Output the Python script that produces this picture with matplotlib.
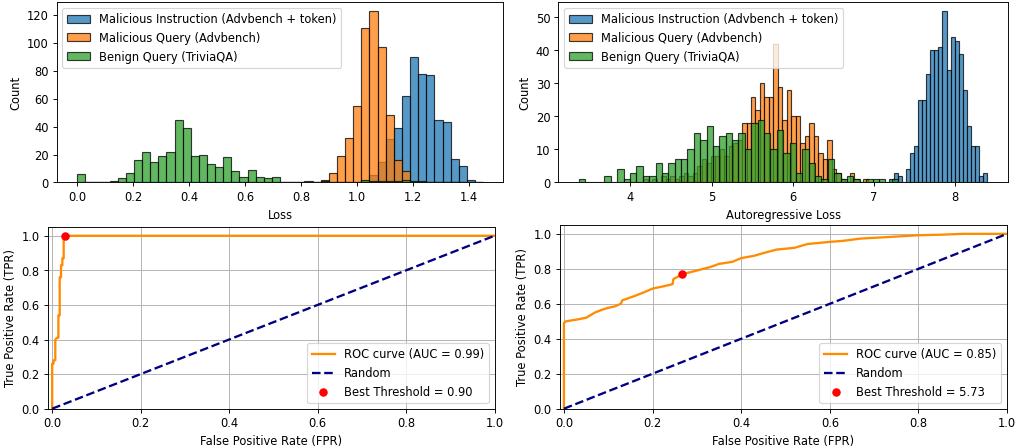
import numpy as np
import matplotlib
matplotlib.use('Agg')
import matplotlib.pyplot as plt

LABELS = ['Malicious Instruction (Advbench + token)', 'Malicious Query (Advbench)', 'Benign Query (TriviaQA)']
COLORS = ['C0', 'C1', 'C2']

# --- Loss histogram (shared bins: 50 bins on [0, 1.45]) ---
loss_bins = (0.0, 1.45, 50)
loss_instruction = [0] * 35 + [1, 5, 15, 31, 39, 62, 90, 78, 77, 45, 43, 17, 12, 2, 0]
loss_query = [0] * 28 + [1, 0, 2, 7, 19, 32, 55, 111, 123, 97, 48, 16, 8] + [0] * 9
loss_benign = [6, 0, 0, 0, 1, 3, 7, 16, 22, 15,
               19, 22, 45, 39, 19, 20, 13, 11, 18, 8,
               4, 9, 4, 3, 4, 0, 0, 0, 0, 0,
               1, 0, 0, 0, 0, 2, 1, 1, 1, 1,
               2, 1, 1, 0, 0, 0, 0, 0, 0, 0]

# --- Autoregressive loss histogram (bins per series: start, width) ---
ar_instruction_bins = (7.189, 0.0502)
ar_instruction = [1, 3, 2, 0, 4, 9, 11, 25, 25, 33, 40, 40, 41, 52, 34, 44, 43, 39, 28, 17, 11, 11, 2, 3]
ar_query_bins = (4.157, 0.0553)
ar_query = [1, 0, 1, 0, 2, 1, 2, 1, 2, 3,
            2, 3, 5, 7, 6, 8, 8, 10, 8, 11,
            12, 13, 18, 18, 26, 22, 30, 26, 26, 42,
            29, 19, 28, 20, 20, 12, 14, 18, 14, 9,
            7, 13, 4, 3, 1, 0, 3, 1, 0, 1]
ar_benign_bins = (3.365, 0.0786)
ar_benign = [1, 0, 0, 0, 2, 0, 4, 1, 3, 5,
             2, 2, 6, 3, 6, 7, 7, 10, 15, 13,
             17, 11, 14, 15, 13, 15, 10, 18, 19, 15,
             10, 16, 9, 12, 3, 10, 6, 2, 1, 7,
             3, 1, 2, 1, 0, 1, 1, 1, 0, 1]

# --- ROC curves ---
fpr_loss = [0, 0, 0.003, 0.003, 0.007, 0.007, 0.011, 0.014, 0.014, 0.017, 0.017, 0.020, 0.020, 0.023, 0.023, 0.026, 0.026, 1.0]
tpr_loss = [0, 0.26, 0.26, 0.28, 0.28, 0.40, 0.41, 0.41, 0.54, 0.54, 0.76, 0.76, 0.83, 0.83, 0.87, 0.87, 1.0, 1.0]
best_loss = (0.030, 1.0)
auc_loss, thr_loss = 0.99, 0.90

fpr_ar = [0, 0, 0.005, 0.03, 0.05, 0.06, 0.07, 0.085, 0.10, 0.115, 0.128, 0.132, 0.16, 0.18, 0.20, 0.225,
          0.245, 0.247, 0.268, 0.30, 0.33, 0.35, 0.38, 0.40, 0.43, 0.45, 0.48, 0.50, 0.52, 0.55, 0.60,
          0.63, 0.67, 0.72, 0.80, 0.85, 0.90, 1.0]
tpr_ar = [0, 0.49, 0.50, 0.51, 0.52, 0.535, 0.55, 0.565, 0.577, 0.585, 0.60, 0.62, 0.645, 0.665, 0.687, 0.70,
          0.712, 0.741, 0.77, 0.79, 0.81, 0.828, 0.84, 0.861, 0.875, 0.89, 0.91, 0.915, 0.92, 0.942, 0.954,
          0.96, 0.973, 0.98, 0.992, 0.995, 1.0, 1.0]
best_ar = (0.267, 0.77)
auc_ar, thr_ar = 0.85, 5.73


def draw_hist(ax, series, xlabel):
    # series: list of (counts, edges) in drawing order
    for (counts, edges), color, label in zip(series, COLORS, LABELS):
        ax.bar(edges[:-1], counts, width=np.diff(edges), align='edge', color=color,
               alpha=0.75, edgecolor='black', linewidth=1.0, label=label)
    ax.set_xlabel(xlabel)
    ax.set_ylabel('Count')
    ax.legend(loc='upper left')


def draw_roc(ax, fpr, tpr, best, auc, thr):
    ax.plot(fpr, tpr, color='darkorange', lw=2, label=f'ROC curve (AUC = {auc:.2f})')
    ax.plot([0, 1], [0, 1], color='navy', lw=2, linestyle='--', label='Random')
    ax.scatter([best[0]], [best[1]], color='red', s=40, zorder=3, label=f'Best Threshold = {thr:.2f}')
    ax.set_xlim([-0.01, 1.0])
    ax.set_ylim([0.0, 1.05])
    ax.set_xlabel('False Positive Rate (FPR)')
    ax.set_ylabel('True Positive Rate (TPR)')
    ax.grid(True)
    ax.legend(loc='lower right')


fig = plt.figure(figsize=(1018.4 / 83, 448.4 / 83), dpi=83)
ax_tl = fig.add_axes([0.0557, 0.5922, 0.4387, 0.4018])
ax_tr = fig.add_axes([0.5484, 0.5922, 0.4411, 0.4018])
ax_bl = fig.add_axes([0.0469, 0.0877, 0.4387, 0.4049])
ax_br = fig.add_axes([0.5494, 0.0877, 0.4395, 0.4094])

loss_edges = np.linspace(*loss_bins[:2], loss_bins[2] + 1)
draw_hist(ax_tl, [(loss_instruction, loss_edges), (loss_query, loss_edges), (loss_benign, loss_edges)], 'Loss')

ar_series = []
for counts, (start, width) in [(ar_instruction, ar_instruction_bins), (ar_query, ar_query_bins), (ar_benign, ar_benign_bins)]:
    ar_series.append((counts, start + width * np.arange(len(counts) + 1)))
draw_hist(ax_tr, ar_series, 'Autoregressive Loss')

draw_roc(ax_bl, fpr_loss, tpr_loss, best_loss, auc_loss, thr_loss)
draw_roc(ax_br, fpr_ar, tpr_ar, best_ar, auc_ar, thr_ar)

fig.savefig('out.png', dpi=83)
